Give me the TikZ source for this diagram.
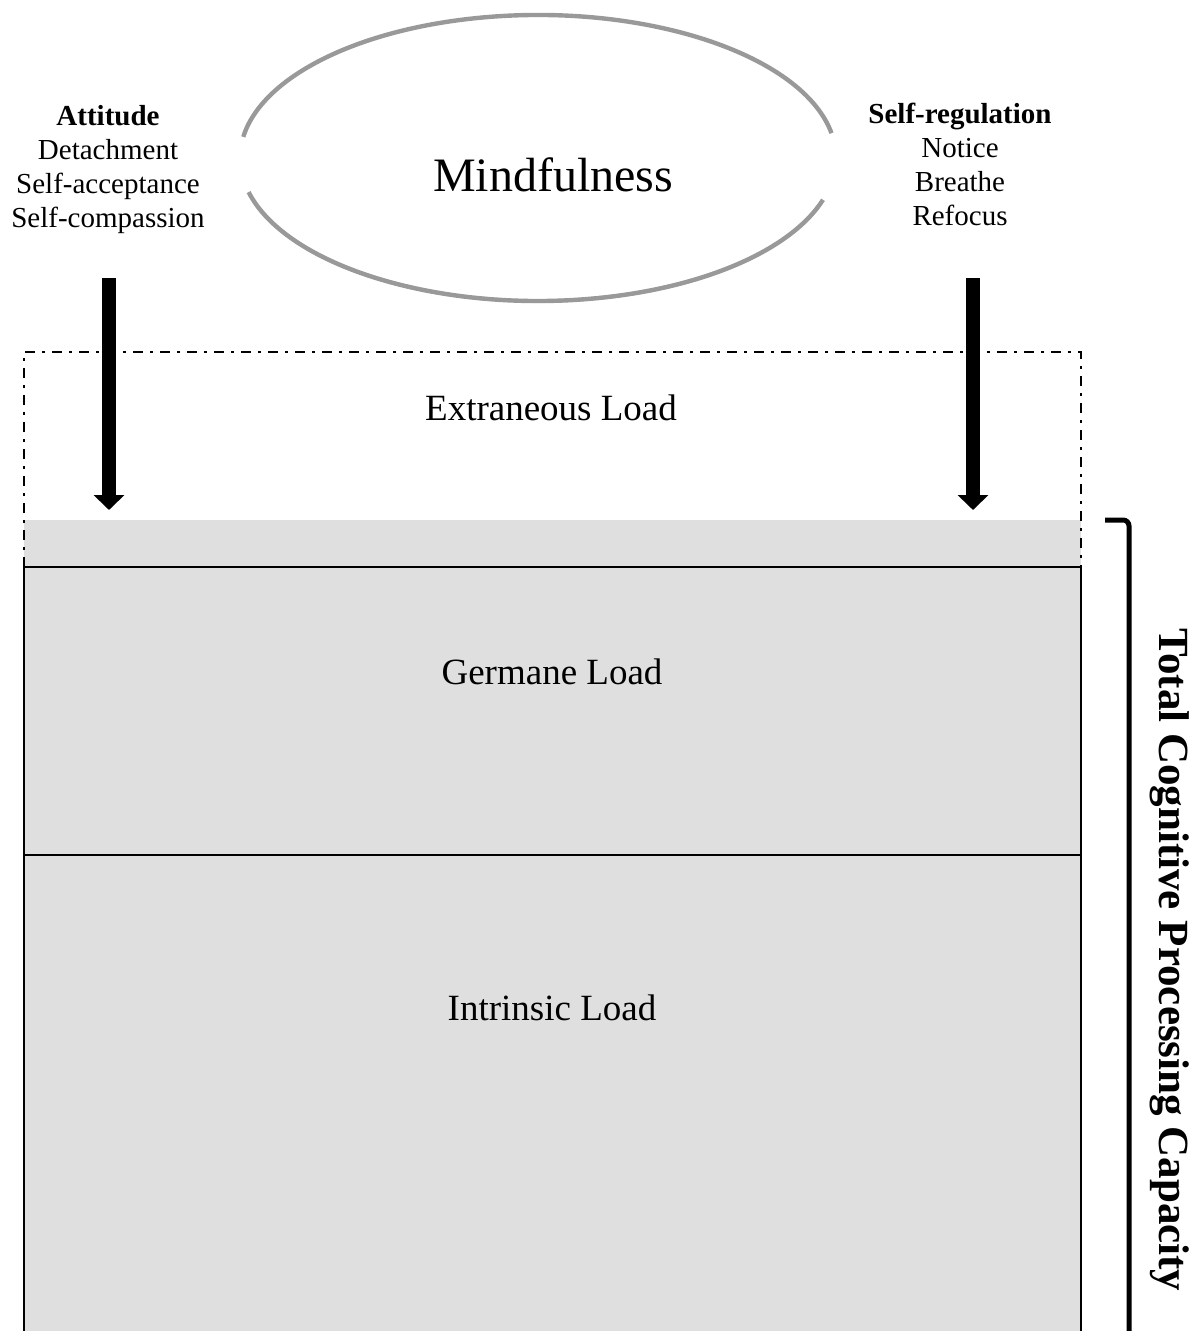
\documentclass[tikz,border=0pt]{standalone}
\usepackage{fontspec}
\setmainfont{Liberation Serif}
\usetikzlibrary{arrows.meta}
\definecolor{loadgray}{HTML}{DFDFDF}
\definecolor{ringgray}{HTML}{999999}
\tikzset{
  lbl/.style={inner sep=0pt, align=center, font=\fontsize{14.5pt}{16.9pt}\selectfont},
  loadtext/.style={inner sep=0pt, font=\fontsize{18.5pt}{22pt}\selectfont},
  bigarrow/.style={line width=7pt, -{Triangle[width=15pt,length=7.5pt]}},
  dashdot/.style={line width=1.1pt, dash pattern=on 5pt off 3.5pt on 1.5pt off 3.5pt},
  boxline/.style={line width=1pt},
  ring/.style={ringgray, line width=2.2pt},
}
\begin{document}
\begin{tikzpicture}[x=0.5pt, y=-0.5pt]
\useasboundingbox (0,0) rectangle (1202,1331);
\begin{scope}
\clip (0,0) rectangle (1202,1331);

% grey body of the capacity column
\fill[loadgray] (24,520) rectangle (1081,1340);

% extraneous load: dash-dotted frame
\draw[dashdot] (24,567) -- (24,352) -- (1081,352) -- (1081,567);

% germane and intrinsic load: solid frame
\draw[boxline] (24,1340) -- (24,567) -- (1081,567) -- (1081,1340);
\draw[boxline] (24,855) -- (1081,855);

% mindfulness ring, open where it meets the side labels
\coordinate (mc) at (538,158);
\begin{scope}[shift={(1.5pt,-1.5pt)}]
  \draw[gray!25, line width=2pt] (mc) ++(200:149pt and 71.5pt)
    arc[start angle=200, end angle=340, x radius=149pt, y radius=71.5pt];
\end{scope}
\draw[ring] (mc) ++(10:149pt and 71.5pt)
  arc[start angle=10, end angle=171.5, x radius=149pt, y radius=71.5pt];
\draw[ring] (mc) ++(193.8:149pt and 71.5pt)
  arc[start angle=193.8, end angle=343, x radius=149pt, y radius=71.5pt];

\node (mind) at (553,175) [inner sep=0pt, font=\fontsize{24pt}{28pt}\selectfont] {Mindfulness};

% side labels
\node (att) at (108,169.5) [lbl] {\textbf{Attitude}\\Detachment\\Self-acceptance\\Self-compassion};
\node (reg) at (960,164.5) [lbl] {\textbf{Self-regulation}\\Notice\\Breathe\\Refocus};

% load labels
\node (ext) at (551,408) [loadtext] {Extraneous Load};
\node (ger) at (552,672) [loadtext] {Germane Load};
\node (intr) at (552,1008) [loadtext] {Intrinsic Load};

% arrows into the extraneous load
\coordinate (attS) at (109,278);
\coordinate (attE) at (109,510);
\coordinate (regS) at (973,278);
\coordinate (regE) at (973,510);
\draw[bigarrow] (attS) -- (attE);
\draw[bigarrow] (regS) -- (regE);

% capacity bracket
\coordinate (brT) at (1105,520);
\coordinate (brC) at (1129,520);
\coordinate (brB) at (1129,1340);
\draw[line width=2.5pt, rounded corners=3pt] (brT) -- (brC) -- (brB);

\node (cap) at (1170,960) [rotate=-90, inner sep=0pt, font=\fontsize{21.5pt}{24pt}\selectfont\bfseries] {Total Cognitive Processing Capacity};
\end{scope}
\end{tikzpicture}
\end{document}
